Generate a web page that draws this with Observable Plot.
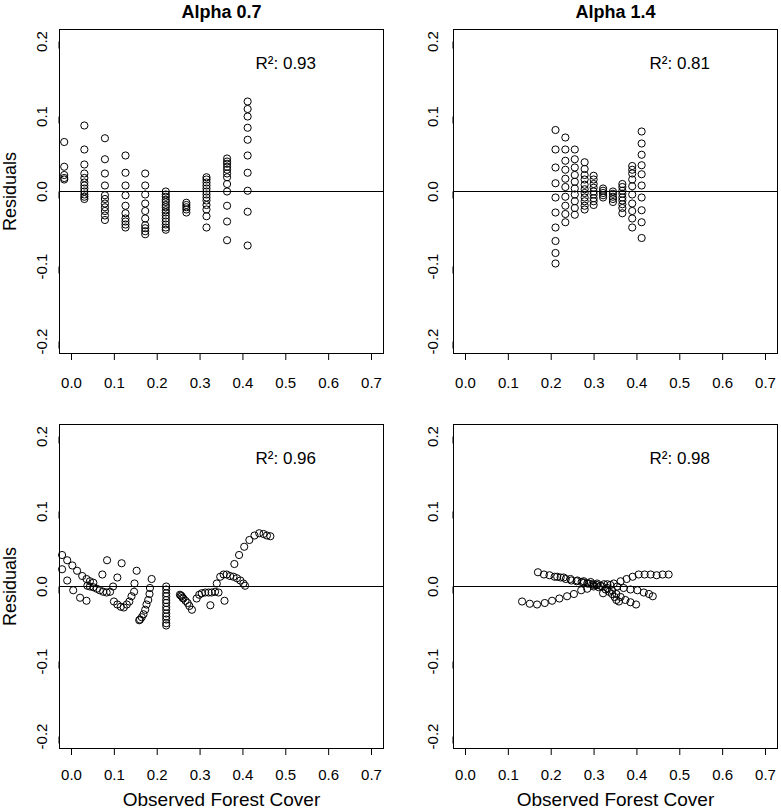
<!DOCTYPE html>
<html>
<head>
<meta charset="utf-8">
<script src="https://cdn.jsdelivr.net/npm/d3@7"></script>
<script src="https://cdn.jsdelivr.net/npm/@observablehq/plot@0.6"></script>
<style>
  html, body { margin: 0; padding: 0; background: #fff; }
  #wrap { position: relative; width: 781px; height: 811px; background: #fff; overflow: hidden; }
  #wrap > div { position: absolute; }
</style>
</head>
<body>
<div id="wrap">
  <div id="p1" style="left:0px;top:0px"></div>
  <div id="p2" style="left:390px;top:0px"></div>
  <div id="p3" style="left:0px;top:395px"></div>
  <div id="p4" style="left:390px;top:395px"></div>
</div>
<script>
// ---------- Data ----------
const xTicks = [0, 0.1, 0.2, 0.3, 0.4, 0.5, 0.6, 0.7];
const yTicks = [-0.2, -0.1, 0, 0.1, 0.2];
const panelTitles = ["Alpha 0.7", "Alpha 1.4"];
const r2Labels = ["R²: 0.93", "R²: 0.81", "R²: 0.96", "R²: 0.98"];
const xLabel = "Observed Forest Cover";
const yLabel = "Residuals";

// Panel 1 (top-left, Alpha 0.7): columns of residuals
const p1ColX = [-0.017, 0.030, 0.078, 0.126, 0.172, 0.220, 0.268, 0.315, 0.363, 0.411];
const p1ColRes = [
  [0.066, 0.033, 0.022, 0.018, 0.016],
  [0.088, 0.056, 0.036, 0.024, 0.018, 0.012, 0.008, 0.004, 0.000, -0.004, -0.007, -0.010],
  [0.071, 0.043, 0.024, 0.008, -0.005, -0.010, -0.016, -0.021, -0.026, -0.032, -0.038],
  [0.048, 0.025, 0.008, -0.005, -0.019, -0.029, -0.036, -0.040, -0.044, -0.048],
  [0.024, 0.008, -0.004, -0.016, -0.026, -0.036, -0.045, -0.049, -0.053, -0.057],
  [0.000, -0.004, -0.007, -0.011, -0.014, -0.018, -0.021, -0.025, -0.028, -0.032, -0.036, -0.040, -0.044, -0.048, -0.051],
  [-0.015, -0.018, -0.021, -0.024, -0.028],
  [0.019, 0.016, 0.012, 0.008, 0.004, 0.000, -0.004, -0.008, -0.012, -0.018, -0.024, -0.033, -0.048],
  [0.044, 0.040, 0.037, 0.033, 0.029, 0.024, 0.019, 0.010, 0.000, -0.019, -0.040, -0.065],
  [0.120, 0.110, 0.100, 0.085, 0.069, 0.048, 0.025, 0.001, -0.027, -0.072]
];

// Panel 2 (top-right, Alpha 1.4): columns of residuals
const p2ColX = [0.210, 0.233, 0.255, 0.278, 0.299, 0.321, 0.344, 0.366, 0.389, 0.411];
const p2ColRes = [
  [0.082, 0.056, 0.032, 0.011, -0.008, -0.028, -0.048, -0.066, -0.082, -0.096],
  [0.072, 0.056, 0.041, 0.029, 0.017, 0.006, -0.007, -0.019, -0.030, -0.041],
  [0.056, 0.043, 0.032, 0.022, 0.013, 0.004, -0.004, -0.013, -0.022, -0.031],
  [0.039, 0.030, 0.022, 0.016, 0.009, 0.003, -0.002, -0.008, -0.013, -0.019, -0.024],
  [0.021, 0.016, 0.010, 0.005, 0.000, -0.004, -0.009, -0.013, -0.018],
  [0.004, 0.001, -0.002, -0.005, -0.008],
  [0.000, -0.003, -0.007, -0.010, -0.014],
  [0.010, 0.006, 0.001, -0.003, -0.008, -0.012, -0.017, -0.022, -0.029],
  [0.034, 0.029, 0.024, 0.016, 0.007, -0.004, -0.016, -0.026, -0.036, -0.048],
  [0.080, 0.064, 0.049, 0.035, 0.023, 0.008, -0.008, -0.025, -0.041, -0.062]
];

// Panel 3 (bottom-left, Alpha 0.7)
const p3X = [
  -0.022, -0.022, -0.010, 0.002, 0.013, 0.025, 0.035, 0.043, 0.051,
  -0.010, 0.004, 0.020, 0.035,
  0.037, 0.043, 0.051, 0.059, 0.066, 0.074, 0.082, 0.090, 0.097, 0.107, 0.117,
  0.072, 0.083,
  0.099, 0.107, 0.115, 0.122, 0.129, 0.135, 0.140, 0.146, 0.147, 0.152,
  0.158, 0.160, 0.164, 0.168, 0.172, 0.175, 0.179, 0.182, 0.183, 0.187,
  0.221, 0.221, 0.221, 0.221, 0.221, 0.221, 0.221, 0.221, 0.221, 0.221, 0.221, 0.221, 0.221,
  0.253, 0.255, 0.257, 0.259, 0.261, 0.266, 0.271, 0.275, 0.281,
  0.292, 0.298, 0.304, 0.312, 0.320, 0.327, 0.335, 0.343,
  0.324, 0.357,
  0.339, 0.347, 0.355, 0.362, 0.370, 0.378, 0.386, 0.394, 0.401, 0.405,
  0.380, 0.391, 0.403, 0.415, 0.427, 0.438, 0.448, 0.456, 0.464
];
const p3Y = [
  0.042, 0.023, 0.035, 0.028, 0.021, 0.014, 0.010, 0.007, 0.005,
  0.008, -0.005, -0.015, -0.019,
  0.001, 0.000, -0.001, -0.003, -0.005, -0.007, -0.008, -0.007, 0.000, 0.012, 0.031,
  0.016, 0.035,
  -0.020, -0.024, -0.027, -0.028, -0.024, -0.020, -0.013, -0.007, 0.004, 0.021,
  -0.045, -0.044, -0.041, -0.037, -0.031, -0.024, -0.018, -0.010, -0.002, 0.010,
  0.000, -0.004, -0.009, -0.013, -0.018, -0.022, -0.027, -0.031, -0.036, -0.040, -0.044, -0.049, -0.052,
  -0.011, -0.012, -0.013, -0.015, -0.016, -0.019, -0.022, -0.026, -0.031,
  -0.016, -0.011, -0.009, -0.008, -0.008, -0.008, -0.007, -0.008,
  -0.025, -0.019,
  0.004, 0.013, 0.016, 0.016, 0.014, 0.013, 0.011, 0.008, 0.004, 0.001,
  0.030, 0.042, 0.053, 0.062, 0.068, 0.071, 0.070, 0.068, 0.067
];

// Panel 4 (bottom-right, Alpha 1.4)
const p4X = [
  0.132, 0.150, 0.167, 0.185, 0.202, 0.219, 0.237, 0.253, 0.270, 0.284, 0.299, 0.315, 0.331, 0.346, 0.362, 0.376, 0.390, 0.404, 0.418, 0.432, 0.446, 0.460, 0.474,
  0.169, 0.183, 0.196, 0.208, 0.222, 0.234, 0.247, 0.259, 0.271, 0.284, 0.296, 0.307, 0.319, 0.331, 0.342, 0.352, 0.362, 0.373, 0.385, 0.398,
  0.214, 0.229, 0.245, 0.261, 0.276, 0.292, 0.307, 0.323, 0.338, 0.354, 0.369, 0.385, 0.401, 0.416, 0.428, 0.437,
  0.276, 0.288, 0.299, 0.311, 0.321, 0.327, 0.335, 0.342, 0.348, 0.352, 0.358
];
const p4Y = [
  -0.020, -0.023, -0.024, -0.022, -0.019, -0.016, -0.013, -0.010, -0.005, -0.003, 0.000, 0.001, 0.003, 0.004, 0.007, 0.010, 0.013, 0.016, 0.016, 0.016, 0.015, 0.016, 0.016,
  0.019, 0.016, 0.015, 0.013, 0.012, 0.010, 0.008, 0.007, 0.006, 0.004, 0.003, 0.002, 0.000, -0.002, -0.005, -0.010, -0.014, -0.018, -0.021, -0.024,
  0.013, 0.012, 0.010, 0.008, 0.007, 0.006, 0.004, 0.003, 0.002, 0.000, -0.002, -0.004, -0.005, -0.008, -0.010, -0.013,
  0.005, 0.004, 0.002, -0.001, -0.009, -0.004, -0.007, -0.010, -0.014, -0.018, -0.020
];

// ---------- Build tables ----------
const colsToRows = (xs, res) => xs.flatMap((x, i) => res[i].map(y => ({x, y})));
const pairsToRows = (xs, ys) => xs.map((x, i) => ({x, y: ys[i]}));
const panels = [
  {id: "p1", rows: colsToRows(p1ColX, p1ColRes), title: panelTitles[0], r2: r2Labels[0], left: true, bottom: false},
  {id: "p2", rows: colsToRows(p2ColX, p2ColRes), title: panelTitles[1], r2: r2Labels[1], left: false, bottom: false},
  {id: "p3", rows: pairsToRows(p3X, p3Y), title: null, r2: r2Labels[2], left: true, bottom: true},
  {id: "p4", rows: pairsToRows(p4X, p4Y), title: null, r2: r2Labels[3], left: false, bottom: true}
];

const FONT = "'Liberation Sans', Arial, Helvetica, sans-serif";
const fmt = d => d.toFixed(1);

for (const p of panels) {
  const width = p.left ? 390 : 391;
  const height = p.bottom ? 416 : 395;
  const marginLeft = p.left ? 59 : 63;
  const marginRight = p.left ? 7 : 4;
  const marginTop = 29;
  const marginBottom = p.bottom ? 63 : 42;
  const marks = [
    Plot.frame({stroke: "black", strokeWidth: 1}),
    Plot.ruleY([0], {stroke: "black", strokeWidth: 1}),
    Plot.dot(p.rows, {x: "x", y: "y", r: 3.6, stroke: "black", fill: "none", strokeWidth: 1}),
    Plot.axisX(xTicks, {tickSize: 7, tickPadding: p.bottom ? 14 : 17, tickFormat: fmt, fontSize: 15, label: null}),
    Plot.axisY(yTicks, {tickSize: 7, tickPadding: p.left ? 6 : 9, tickFormat: fmt, fontSize: 15,
      rotate: -90, textAnchor: "middle", lineAnchor: "bottom", label: null}),
    Plot.text([p.r2], {x: 0.5, y: 0.17, text: d => d, fontSize: 17, textAnchor: "middle", lineAnchor: "middle"})
  ];
  if (p.title) {
    marks.push(Plot.text([p.title], {frameAnchor: "top", dy: -17, text: d => d, fontSize: 18,
      fontWeight: "bold", lineAnchor: "middle"}));
  }
  if (p.left) {
    marks.push(Plot.text([yLabel], {frameAnchor: "left", dx: -49, text: d => d, fontSize: 18,
      rotate: -90, textAnchor: "middle", lineAnchor: "middle"}));
  }
  if (p.bottom) {
    marks.push(Plot.text([xLabel], {frameAnchor: "bottom", dy: 51, text: d => d, fontSize: 19,
      lineAnchor: "middle"}));
  }
  const chart = Plot.plot({
    width, height, marginLeft, marginRight, marginTop, marginBottom,
    style: {fontFamily: FONT, background: "white", color: "black", overflow: "visible"},
    x: {domain: [-0.028, 0.728], axis: null},
    y: {domain: [-0.216, 0.216], axis: null},
    marks
  });
  document.getElementById(p.id).appendChild(chart);
}
</script>
</body>
</html>
